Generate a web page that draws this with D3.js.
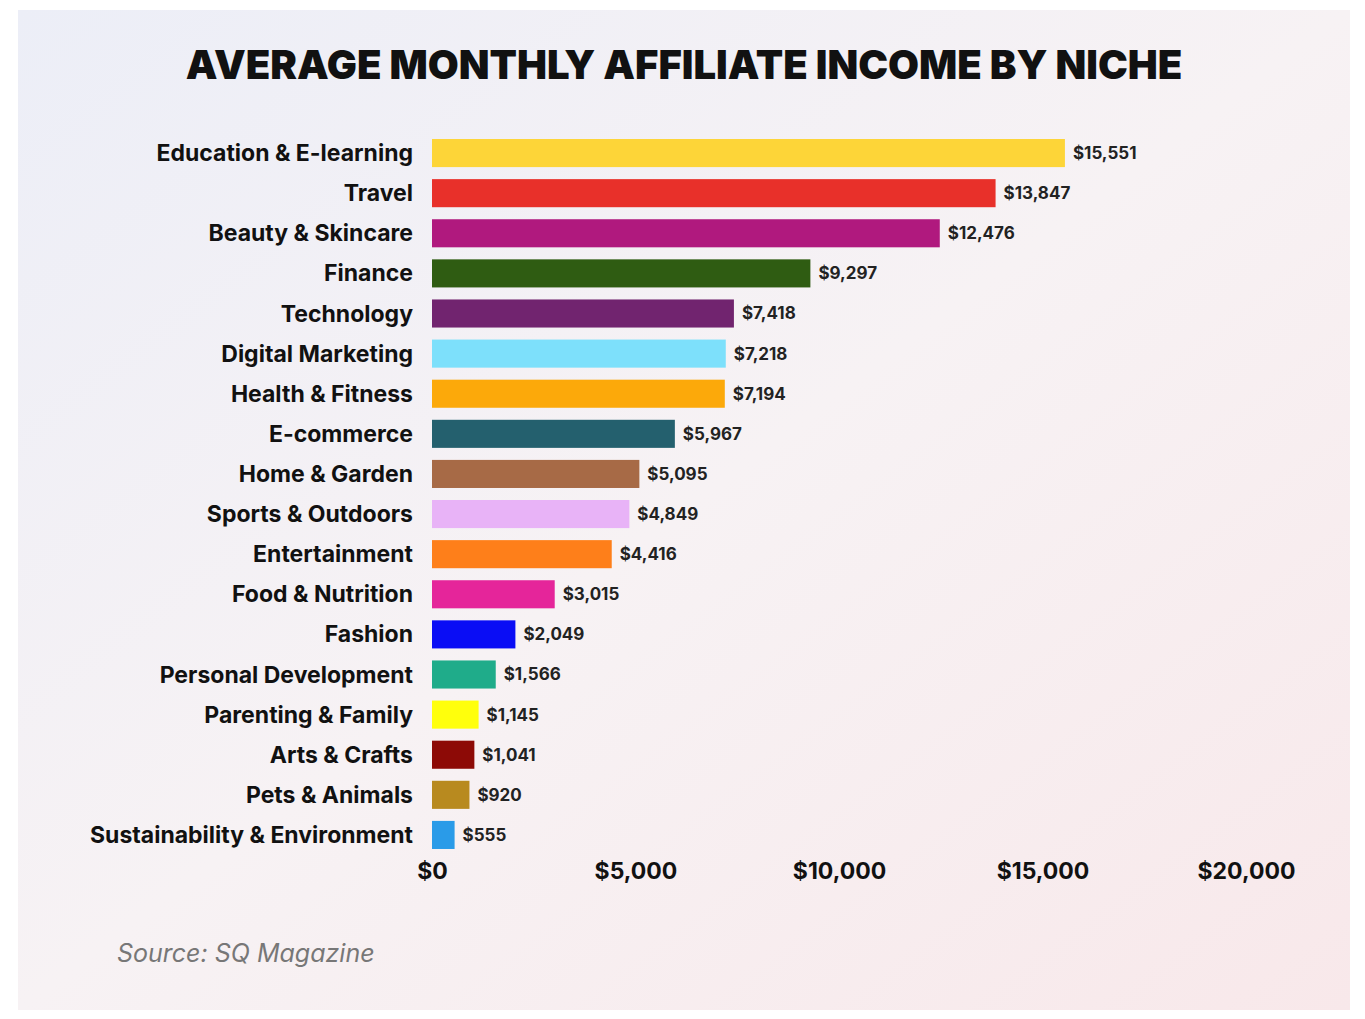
<!DOCTYPE html>
<html lang="en">
<head>
<meta charset="UTF-8">
<script src="https://d3js.org/d3.v7.min.js"></script>
<style>
  body { margin: 0; background: #fff; }
  text { font-family: Inter, "Open Sans", sans-serif; }
</style>
</head>
<body>
<svg width="1365" height="1019"></svg>
<script>
const niches = ["Education & E-learning","Travel","Beauty & Skincare","Finance","Technology","Digital Marketing","Health & Fitness","E-commerce","Home & Garden","Sports & Outdoors","Entertainment","Food & Nutrition","Fashion","Personal Development","Parenting & Family","Arts & Crafts","Pets & Animals","Sustainability & Environment"];
const income = [15551,13847,12476,9297,7418,7218,7194,5967,5095,4849,4416,3015,2049,1566,1145,1041,920,555];
const colors = ["#fdd538","#e8302a","#b0197e","#2f5c12","#71246f","#7de0fb","#fca90a","#24606e","#a76a46","#e8b3f7","#fe7f1a","#e5259a","#0a0df5","#1fac8a","#ffff0c","#8d0a06","#b88a1f","#2a9be8"];
const ticks = [0,5000,10000,15000,20000];

const svg = d3.select("svg");
const defs = svg.append("defs");
const grad = defs.append("linearGradient").attr("id","bg").attr("x1","0").attr("y1","0").attr("x2","1").attr("y2","1");
grad.append("stop").attr("offset","0").attr("stop-color","#eceef7");
grad.append("stop").attr("offset","0.5").attr("stop-color","#f7f2f4");
grad.append("stop").attr("offset","1").attr("stop-color","#f8e8ea");
svg.append("rect").attr("x",18).attr("y",10).attr("width",1332).attr("height",1000).attr("fill","url(#bg)");

svg.append("text").attr("x",684).attr("y",79).attr("text-anchor","middle")
  .attr("font-size",40).attr("font-weight",900).attr("fill","#111")
  .text("AVERAGE MONTHLY AFFILIATE INCOME BY NICHE");

const x = d3.scaleLinear().domain([0,20000]).range([432,1246]);
const y = d3.scaleBand().domain(niches).range([133,855]).paddingInner(0.3).paddingOuter(0.15);

svg.selectAll(".bar").data(niches).join("rect")
  .attr("x",x(0)).attr("y",d=>y(d))
  .attr("width",(d,i)=>x(income[i])-x(0)).attr("height",y.bandwidth())
  .attr("fill",(d,i)=>colors[i]);

svg.selectAll(".lab").data(niches).join("text")
  .attr("x",413).attr("y",d=>y(d)+y.bandwidth()/2).attr("dy","0.35em")
  .attr("text-anchor","end").attr("font-size",23).attr("font-weight",700).attr("fill","#111")
  .text(d=>d);

svg.selectAll(".val").data(niches).join("text")
  .attr("x",(d,i)=>x(income[i])+8).attr("y",d=>y(d)+y.bandwidth()/2).attr("dy","0.35em")
  .attr("font-size",17).attr("font-weight",700).attr("fill","#222")
  .text((d,i)=>"$"+d3.format(",")(income[i]));

const axis = svg.append("g").attr("transform","translate(0,860)")
  .call(d3.axisBottom(x).tickValues(ticks).tickFormat(d=>"$"+d3.format(",")(d)).tickSize(0));
axis.select(".domain").remove();
axis.selectAll("text").attr("font-size",23).attr("font-weight",700).attr("fill","#111")
  .attr("font-family","Inter, sans-serif");

svg.append("text").attr("x",117).attr("y",962).attr("font-size",25).attr("font-style","italic")
  .attr("fill","#777").text("Source: SQ Magazine");
</script>
</body>
</html>
